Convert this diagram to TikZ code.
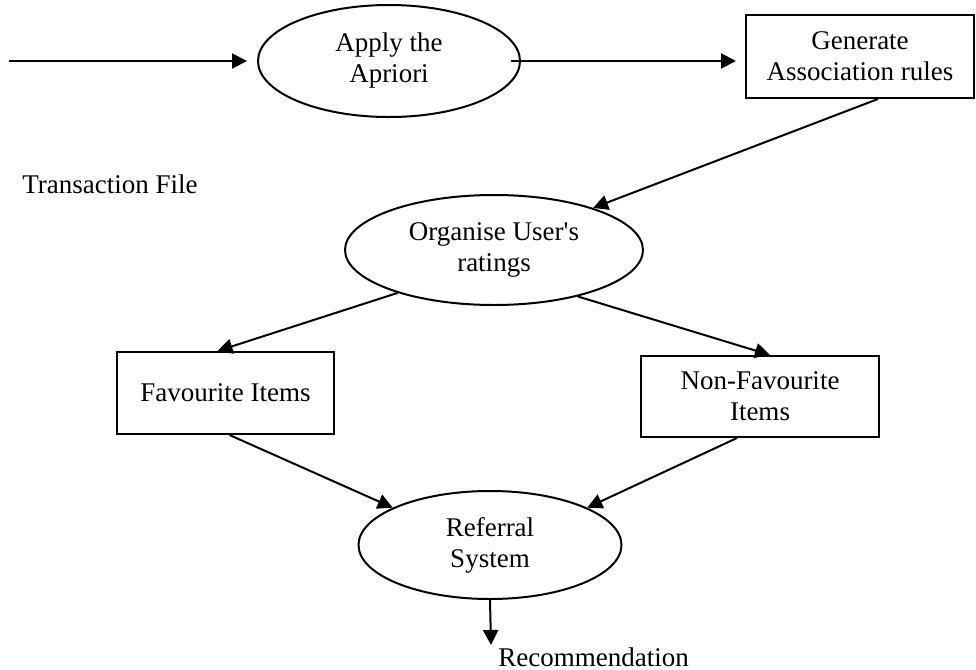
\documentclass[tikz,border=0pt]{standalone}
\usepackage{fontspec}
\setmainfont{Liberation Serif}
\usetikzlibrary{arrows.meta,shapes.geometric}

\tikzset{
  proc/.style={ellipse, draw, line width=1pt, align=center, inner sep=0pt},
  store/.style={rectangle, draw, line width=1pt, align=center, inner sep=0pt},
  flow/.style={line width=1pt, -{Triangle[length=7.5pt,width=7.5pt]}},
}

\begin{document}
\begin{tikzpicture}[x=0.5pt, y=-0.5pt, font=\fontsize{13.5}{15.5}\selectfont]
  \useasboundingbox (0,0) rectangle (976,670);

  \coordinate (in) at (9,61);
  \node[proc, minimum width=131pt, minimum height=56pt] (apriori) at (389,61) {Apply the\\Apriori};
  \node[store, minimum width=114pt, minimum height=41.5pt] (rules) at (860,56.5) {Generate\\Association rules};
  \node[anchor=west, inner sep=0pt] (trans) at (22,184) {Transaction File};
  \node[proc, minimum width=149pt, minimum height=55pt] (organise) at (494,250) {Organise User\textquotesingle s\\ratings};
  \node[store, minimum width=108.5pt, minimum height=41pt] (fav) at (225.5,393) {Favourite Items};
  \node[store, minimum width=119pt, minimum height=40.5pt] (nonfav) at (760,396.5) {Non-Favourite\\Items};
  \node[proc, minimum width=131.5pt, minimum height=54pt] (referral) at (490,545) {Referral\\System};
  \coordinate (out) at (491,645);
  \node[anchor=base west, inner sep=0pt] (recom) at (498,666) {Recommendation};

  \draw[flow, shorten >=5pt] (in) -- (apriori.west);
  \draw[flow] ([xshift=-5pt]apriori.east) -- ([xshift=-4.5pt]rules.west |- apriori.east);
  \draw[flow] ([xshift=9pt]rules.south) -- (organise.23);
  \draw[flow] (organise.-156) -- ([xshift=-4pt]fav.north);
  \draw[flow] (organise.-29) -- ([xshift=5pt]nonfav.north);
  \draw[flow] ([xshift=2pt]fav.south) -- (referral.159);
  \draw[flow] ([xshift=-11.5pt]nonfav.south) -- (referral.21);
  \draw[flow] (referral.south) -- (out);
\end{tikzpicture}
\end{document}
